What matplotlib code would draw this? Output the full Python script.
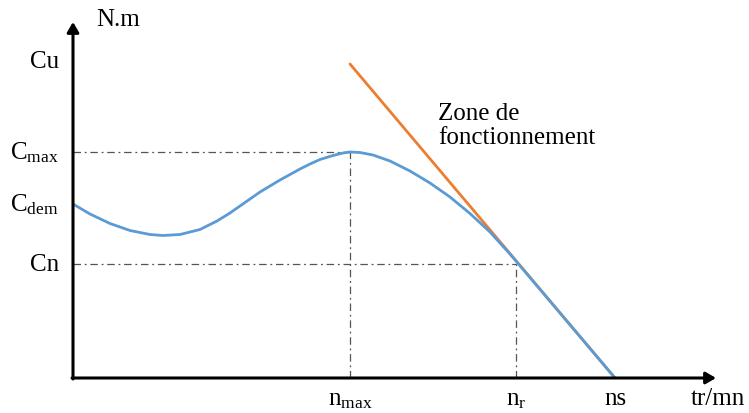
import matplotlib.pyplot as plt

plt.rcParams['mathtext.fontset'] = 'custom'
plt.rcParams['mathtext.rm'] = 'Liberation Serif'
plt.rcParams['mathtext.it'] = 'Liberation Serif'
plt.rcParams['font.family'] = 'Liberation Serif'

# Torque/speed characteristic (speed, torque)
speed = [0, 17, 37, 57, 77, 90, 107, 127, 144, 157, 167, 187, 207, 227, 237,
         247, 260, 270, 277, 287, 300, 317, 337, 357, 377, 397, 417, 437, 443, 542]
torque = [174, 164, 154.5, 147.5, 143.5, 142.5, 143.5, 148.5, 157, 165, 172, 186, 198, 209, 214,
          218.5, 222.5, 225, 226, 225.5, 223, 217, 207, 195, 181, 164.5, 146, 124, 117, 0]

# operating zone straight line
zone_speed = [277, 542]
zone_torque = [314, 0]

# key points
n_max, n_r, n_s = 277, 443, 542
c_u, c_max, c_dem, c_n = 317, 226, 174, 114

y_labels = ['Cu', r'$\mathrm{C_{max}}$', r'$\mathrm{C_{dem}}$', 'Cn']
y_values = [c_u, c_max, c_dem, c_n]
x_labels = [r'$\mathrm{n_{max}}$', r'$\mathrm{n_{r}}$', 'ns']
x_values = [n_max, n_r, n_s]

fig = plt.figure(figsize=(7.49, 4.14), dpi=100)
ax = fig.add_axes([73 / 749, 35 / 414, 676 / 749, 379 / 414])
ax.set_xlim(0, 676)
ax.set_ylim(0, 379)
ax.axis('off')

# guide lines
dash = (0, (6, 3, 1.5, 3))
ax.plot([0, n_max], [c_max, c_max], color='#555555', lw=0.9, ls=dash)
ax.plot([n_max, n_max], [0, c_max], color='#555555', lw=0.9, ls=dash)
ax.plot([0, n_r], [c_n, c_n], color='#555555', lw=0.9, ls=dash)
ax.plot([n_r, n_r], [0, c_n], color='#555555', lw=0.9, ls=dash)

# curves
ax.plot(zone_speed, zone_torque, color='#ed7d31', lw=2, solid_capstyle='round')
ax.plot(speed, torque, color='#5b9bd5', lw=2, solid_joinstyle='round')

# axes with arrows
arrow = dict(arrowstyle='-|>,head_length=0.6,head_width=0.35', lw=2.2,
             color='black', mutation_scale=10, shrinkA=0, shrinkB=0)
ax.annotate('', xy=(0, 356), xytext=(0, -1), arrowprops=arrow, annotation_clip=False)
ax.annotate('', xy=(643, 0), xytext=(-1, 0), arrowprops=arrow, annotation_clip=False)

# labels
for lab, v in zip(y_labels, y_values):
    ax.text(-14, v, lab, ha='right', va='center', fontsize=18)
for lab, v in zip(x_labels, x_values):
    ax.text(v, -26, lab, ha='center', va='baseline', fontsize=18)
ax.text(645, -26, 'tr/mn', ha='center', va='baseline', fontsize=18)
ax.text(23, 359, 'N.m', ha='left', va='center', fontsize=18)
ax.text(365, 253, 'Zone de\nfonctionnement', ha='left', va='center',
        fontsize=18, linespacing=1.1)

fig.savefig('out.png', dpi=100)
